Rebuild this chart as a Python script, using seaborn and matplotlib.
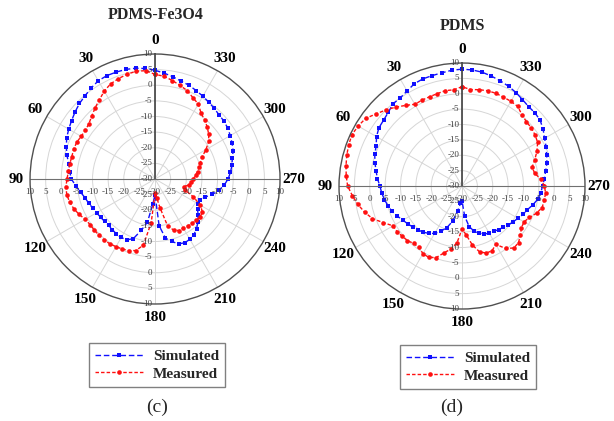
import numpy as np
import pandas as pd
import seaborn as sns
import matplotlib.pyplot as plt
from matplotlib.lines import Line2D

# angle of each sample, degrees (counter-clockwise from the top)
angles = np.arange(0, 360, 5)

fe_simulated = [4.8, 5.5, 6.0, 6.3, 6.4, 6.5, 6.3, 5.6, 4.8, 4.2, 3.4, 2.6,
                1.9, 1.2, 0.2, -0.8, -2.0, -2.6, -3.2, -4.6, -5.8, -6.8, -7.4, -8.0,
                -8.4, -8.7, -8.9, -9.0, -8.8, -8.5, -8.4, -8.5, -9.7, -13.0, -16.0, -22.0,
                -25.0, -15.0, -10.8, -9.3, -7.9, -7.5, -7.7, -8.3, -9.3, -10.6, -12.0, -13.4,
                -14.2, -14.0, -13.0, -11.0, -9.2, -7.8, -6.6, -5.8, -5.0, -4.4, -3.4, -2.8,
                -2.2, -1.6, -1.2, -1.0, -0.5, 0.0, 0.6, 1.2, 1.9, 2.4, 3.2, 4.0]
fe_measured = [3.5, 4.8, 5.0, 4.7, 4.2, 3.6, 2.5, 1.0, -0.2, -1.4, -2.4, -2.8,
               -2.7, -2.3, -2.3, -2.4, -2.3, -2.2, -1.8, -1.4, -1.3, -1.7, -2.3, -3.2,
               -4.2, -4.6, -4.6, -4.6, -4.6, -4.7, -5.0, -5.3, -5.6, -6.3, -8.5, -16.0,
               -25.5, -24.0, -20.5, -14.5, -12.6, -11.8, -11.9, -11.7, -11.5, -11.3, -11.2, -11.5,
               -13.2, -16.5, -19.8, -20.5, -19.0, -18.3, -17.8, -17.0, -16.2, -15.4, -14.6, -13.4,
               -11.2, -9.0, -7.6, -6.4, -5.3, -4.3, -2.3, -1.3, 0.1, 1.0, 2.0, 3.0]
pdms_simulated = [8.0, 7.8, 7.4, 7.2, 7.1, 6.7, 5.7, 5.0, 4.9, 3.9, 3.3, 3.0,
                  2.1, 0.8, 0.2, -0.7, -1.6, -2.4, -3.3, -3.8, -4.4, -5.1, -5.8, -6.8,
                  -7.8, -8.5, -9.2, -9.8, -10.4, -11.2, -12.2, -13.8, -15.6, -18.1, -21.7, -24.3,
                  -25.2, -20.2, -16.6, -14.8, -13.7, -12.7, -12.4, -12.0, -11.5, -11.0, -10.3, -9.7,
                  -9.0, -8.1, -7.4, -6.2, -5.0, -4.3, -3.8, -3.1, -2.4, -1.4, -0.7, 0.2,
                  1.0, 2.2, 3.2, 3.6, 3.7, 4.3, 5.1, 5.8, 6.4, 7.0, 7.6, 7.9]
pdms_measured = [2.3, 1.4, 1.5, 1.1, 0.9, 0.8, 0.7, 2.0, 3.5, 5.0, 6.5, 8.3,
                 9.0, 9.5, 9.2, 8.8, 8.3, 7.8, 7.2, 5.8, 4.4, 2.8, 1.0, -1.8,
                 -4.1, -4.2, -4.6, -4.9, -5.6, -5.6, -4.6, -4.4, -5.2, -7.5, -9.2, -11.5,
                 -16.0, -14.0, -10.5, -7.8, -6.8, -6.8, -8.1, -5.2, -3.7, -4.0, -5.2, -6.4,
                 -6.7, -5.8, -4.2, -3.0, -2.9, -2.7, -3.2, -4.3, -6.0, -6.4, -4.8, -3.1,
                 -1.6, -1.0, -0.6, -0.4, 0.3, 1.6, 1.8, 1.9, 2.1, 2.1, 1.8, 1.5]

angle_labels = ['0', '30', '60', '90', '120', '150', '180', '210', '240', '270', '300', '330']
ring_values = [-25, -20, -15, -10, -5, 0, 5, 10]
panel_titles = ['PDMS-Fe3O4', 'PDMS']
panel_tags = ['(c)', '(d)']
series_names = ['Simulated', 'Measured']

sns.set_style('white')
plt.rcParams['font.family'] = ['Liberation Serif', 'DejaVu Serif']

colors = {'Simulated': '#1010ff', 'Measured': '#ff1010'}
markers = {'Simulated': 's', 'Measured': 'o'}
dashes = {'Simulated': (4, 2), 'Measured': (2.5, 1.5)}


def make_frame(sim, meas):
    parts = []
    for name, vals in zip(series_names, [sim, meas]):
        # close the loop back to the first sample
        theta = np.deg2rad(np.append(angles, 360))
        gain = np.append(vals, vals[0])
        parts.append(pd.DataFrame({'theta': theta, 'gain': gain, 'series': name}))
    return pd.concat(parts, ignore_index=True)


def draw_panel(ax, df):
    ax.set_theta_zero_location('N')
    ax.set_theta_direction(1)
    sns.lineplot(data=df, x='theta', y='gain', hue='series', style='series',
                 palette=colors, markers=markers, dashes=dashes, sort=False,
                 estimator=None, legend=False, ax=ax, linewidth=1.0,
                 markersize=3.3, markeredgewidth=0)
    ax.set_xlabel('')
    ax.set_ylabel('')
    ax.set_ylim(-30, 10)
    ax.set_yticks(ring_values[:-1])
    ax.set_yticklabels([])
    ax.set_xticks(np.deg2rad(np.arange(0, 360, 30)))
    ax.set_xticklabels(angle_labels, fontweight='bold', fontsize=11)
    ax.tick_params(axis='x', pad=-1, length=4, width=0.8, direction='out', colors='#000000')
    ax.grid(True, color='#d6d6d6', linewidth=0.7)
    ax.spines['polar'].set_color('#505050')
    ax.spines['polar'].set_linewidth(1.0)
    ax.axvline(0, color='#404040', linewidth=1.2)
    ax.axvline(np.pi / 2, color='#707070', linewidth=0.8)
    ax.axvline(3 * np.pi / 2, color='#707070', linewidth=0.8)

    lab = dict(fontsize=6.5, color='#404040', textcoords='offset points')
    # labels up the top spoke and down the bottom spoke
    for v in [-30] + ring_values:
        ax.annotate(str(v), xy=(0, v), xytext=(-2, 0), ha='right', va='center', **lab)
    for v in ring_values:
        ax.annotate(str(v), xy=(np.pi, v), xytext=(-2, 0), ha='right', va='center', **lab)
    # labels along the horizontal line, just below it
    for v in ring_values:
        ax.annotate(str(v), xy=(np.pi / 2, v), xytext=(0, -9.5), ha='center', va='center', **lab)
        ax.annotate(str(v), xy=(3 * np.pi / 2, v), xytext=(0, -9.5), ha='center', va='center', **lab)
    ax.annotate('-30', xy=(0, -30), xytext=(0, -9.5), ha='center', va='center', **lab)


fig = plt.figure(figsize=(6.14, 4.21), dpi=100)
ax_left = fig.add_axes([0.0489, 0.2779, 0.4072, 0.5938], projection='polar')
ax_right = fig.add_axes([0.5521, 0.266, 0.4007, 0.5843], projection='polar')

draw_panel(ax_left, make_frame(fe_simulated, fe_measured))
draw_panel(ax_right, make_frame(pdms_simulated, pdms_measured))

fig.text(156 / 614, 1 - 15 / 421, panel_titles[0], ha='center', va='center',
         fontsize=11.5, fontweight='bold')
fig.text(462 / 614, 1 - 26 / 421, panel_titles[1], ha='center', va='center',
         fontsize=11.5, fontweight='bold')

handles = [Line2D([], [], color=colors[n], linestyle=(0, dashes[n]), marker=markers[n],
                  markersize=3.3, markeredgewidth=0, linewidth=1.0) for n in series_names]
for cx, cy in [(157, 365), (468, 367)]:
    fig.legend(handles, series_names, loc='center', bbox_to_anchor=(cx / 614, 1 - cy / 421),
               frameon=True, fancybox=False, edgecolor='#808080', framealpha=1,
               prop={'weight': 'bold', 'size': 11}, handlelength=3.2, handletextpad=0.6,
               borderpad=0.4, labelspacing=0.25, numpoints=1)

fig.text(157 / 614, 1 - 407 / 421, panel_tags[0], ha='center', va='center', fontsize=14)
fig.text(452 / 614, 1 - 407 / 421, panel_tags[1], ha='center', va='center', fontsize=14)

fig.savefig('out.png', dpi=100)
